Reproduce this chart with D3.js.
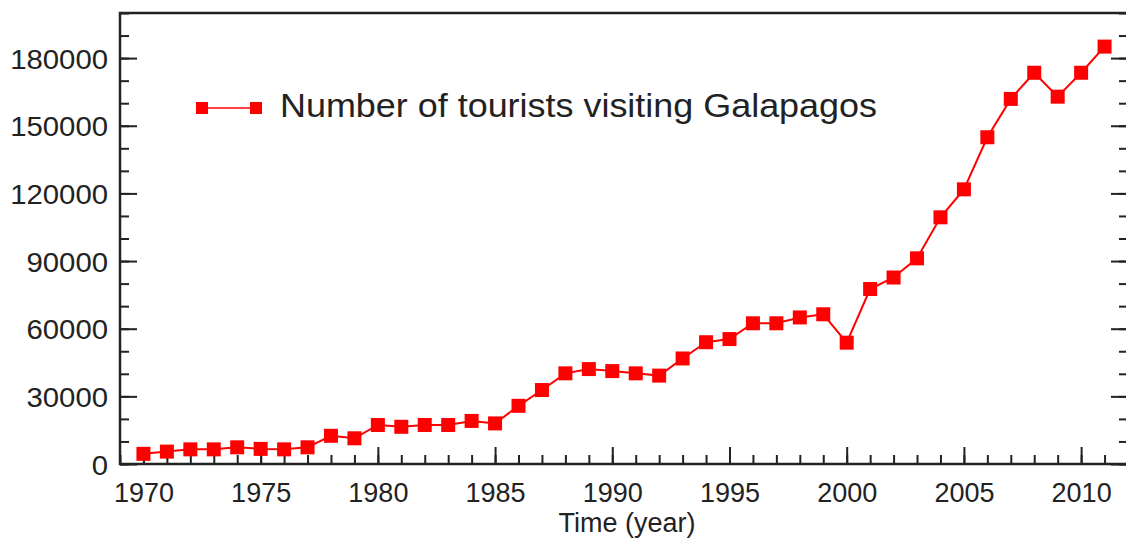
<!DOCTYPE html>
<html>
<head>
<meta charset="utf-8">
<script src="https://cdn.jsdelivr.net/npm/d3@7"></script>
<style>
  body { margin: 0; background: #fff; }
  text { font-family: "Liberation Sans", Arial, sans-serif; fill: #222; }
</style>
</head>
<body>
<svg id="chart"></svg>
<script>
// data
const years = [1970, 1971, 1972, 1973, 1974, 1975, 1976, 1977, 1978, 1979,
  1980, 1981, 1982, 1983, 1984, 1985, 1986, 1987, 1988, 1989,
  1990, 1991, 1992, 1993, 1994, 1995, 1996, 1997, 1998, 1999,
  2000, 2001, 2002, 2003, 2004, 2005, 2006, 2007, 2008, 2009, 2010, 2011];
const tourists = [4500, 5500, 6500, 6500, 7400, 6700, 6500, 7400, 12500, 11400,
  17300, 16500, 17300, 17300, 19100, 18000, 25800, 32800, 40200, 42100,
  41200, 40200, 39200, 46800, 54000, 55400, 62400, 62400, 65000, 66400,
  53800, 77600, 82700, 91200, 109400, 121800, 144900, 161900, 173500, 162900, 173500, 185100];
const xTicks = [1970, 1975, 1980, 1985, 1990, 1995, 2000, 2005, 2010];
const yTicks = [0, 30000, 60000, 90000, 120000, 150000, 180000];
const legendLabel = "Number of tourists visiting Galapagos";
const xTitle = "Time (year)";

// set the dimensions of the canvas
const width = 1126;
const height = 542;
const plotLeft = 120, plotRight = 1128, plotTop = 13, plotBottom = 464;

const svg = d3.select("#chart")
  .attr("width", width)
  .attr("height", height);

const x = d3.scaleLinear().domain([1969, 2012]).range([plotLeft, plotRight]);
const y = d3.scaleLinear().domain([0, 200000]).range([plotBottom, plotTop]);

const minorX = d3.range(1969, 2013);
const minorY = d3.range(0, 200001, 10000);

// bottom axis: minor ticks, then major ticks with labels
svg.append("g")
  .attr("transform", `translate(0,${plotBottom})`)
  .call(d3.axisBottom(x).tickValues(minorX).tickSize(-9).tickSizeOuter(0).tickFormat(""))
  .call(g => g.select(".domain").remove());
svg.append("g")
  .attr("class", "xaxis")
  .attr("transform", `translate(0,${plotBottom})`)
  .call(d3.axisBottom(x).tickValues(xTicks).tickSize(-17).tickSizeOuter(0).tickFormat(d3.format("d")))
  .call(g => g.select(".domain").remove());
d3.selectAll(".xaxis text")
  .attr("y", 38).attr("dy", 0)
  .attr("fill", "#222")
  .style("font-size", "27px");

// left axis
svg.append("g")
  .attr("transform", `translate(${plotLeft},0)`)
  .call(d3.axisLeft(y).tickValues(minorY).tickSize(-9).tickSizeOuter(0).tickFormat(""))
  .call(g => g.select(".domain").remove());
svg.append("g")
  .attr("class", "yaxis")
  .attr("transform", `translate(${plotLeft},0)`)
  .call(d3.axisLeft(y).tickValues(yTicks).tickSize(-17).tickSizeOuter(0).tickPadding(12).tickFormat(d3.format("d")))
  .call(g => g.select(".domain").remove());
// the labels in the picture are a little wider than the font
d3.selectAll(".yaxis text")
  .attr("dy", "0.36em")
  .attr("fill", "#222")
  .attr("textLength", d => String(d).length * 16.3)
  .attr("lengthAdjust", "spacingAndGlyphs")
  .style("font-size", "28px");

// right axis, ticks only
svg.append("g")
  .attr("transform", `translate(${plotRight},0)`)
  .call(d3.axisRight(y).tickValues(minorY).tickSize(-9).tickSizeOuter(0).tickFormat(""))
  .call(g => g.select(".domain").remove());
svg.append("g")
  .attr("transform", `translate(${plotRight},0)`)
  .call(d3.axisRight(y).tickValues(yTicks).tickSize(-17).tickSizeOuter(0).tickFormat(""))
  .call(g => g.select(".domain").remove());

svg.selectAll(".tick line").attr("stroke", "#222").attr("stroke-width", 2);
svg.selectAll("g").attr("font-family", null);

// frame
svg.append("rect")
  .attr("x", plotLeft).attr("y", plotTop)
  .attr("width", plotRight - plotLeft).attr("height", plotBottom - plotTop)
  .attr("fill", "none")
  .attr("stroke", "#222")
  .attr("stroke-width", 2.5);

// axis title
svg.append("text")
  .attr("x", 627).attr("y", 532)
  .attr("text-anchor", "middle")
  .style("font-size", "27px")
  .text(xTitle);

// the series
const data = years.map((yr, i) => ({ year: yr, value: tourists[i] }));
const ms = 14;

svg.append("path")
  .datum(data)
  .attr("fill", "none")
  .attr("stroke", "#ff0000")
  .attr("stroke-width", 2)
  .attr("d", d3.line().x(d => x(d.year)).y(d => y(d.value)));

svg.append("g")
  .selectAll("rect")
  .data(data)
  .enter()
  .append("rect")
  .attr("x", d => x(d.year) - ms / 2)
  .attr("y", d => y(d.value) - ms / 2)
  .attr("width", ms)
  .attr("height", ms)
  .attr("fill", "#ff0000");

// legend
const legend = svg.append("g");
legend.append("line")
  .attr("x1", 202).attr("x2", 256)
  .attr("y1", 108).attr("y2", 108)
  .attr("stroke", "#ff0000").attr("stroke-width", 1.6);
legend.selectAll("rect")
  .data([202, 256])
  .enter()
  .append("rect")
  .attr("x", d => d - 6).attr("y", 102)
  .attr("width", 12).attr("height", 12)
  .attr("fill", "#ff0000");
legend.append("text")
  .attr("x", 280).attr("y", 117)
  .attr("textLength", 597)
  .attr("lengthAdjust", "spacingAndGlyphs")
  .style("font-size", "33px")
  .text(legendLabel);
</script>
</body>
</html>
